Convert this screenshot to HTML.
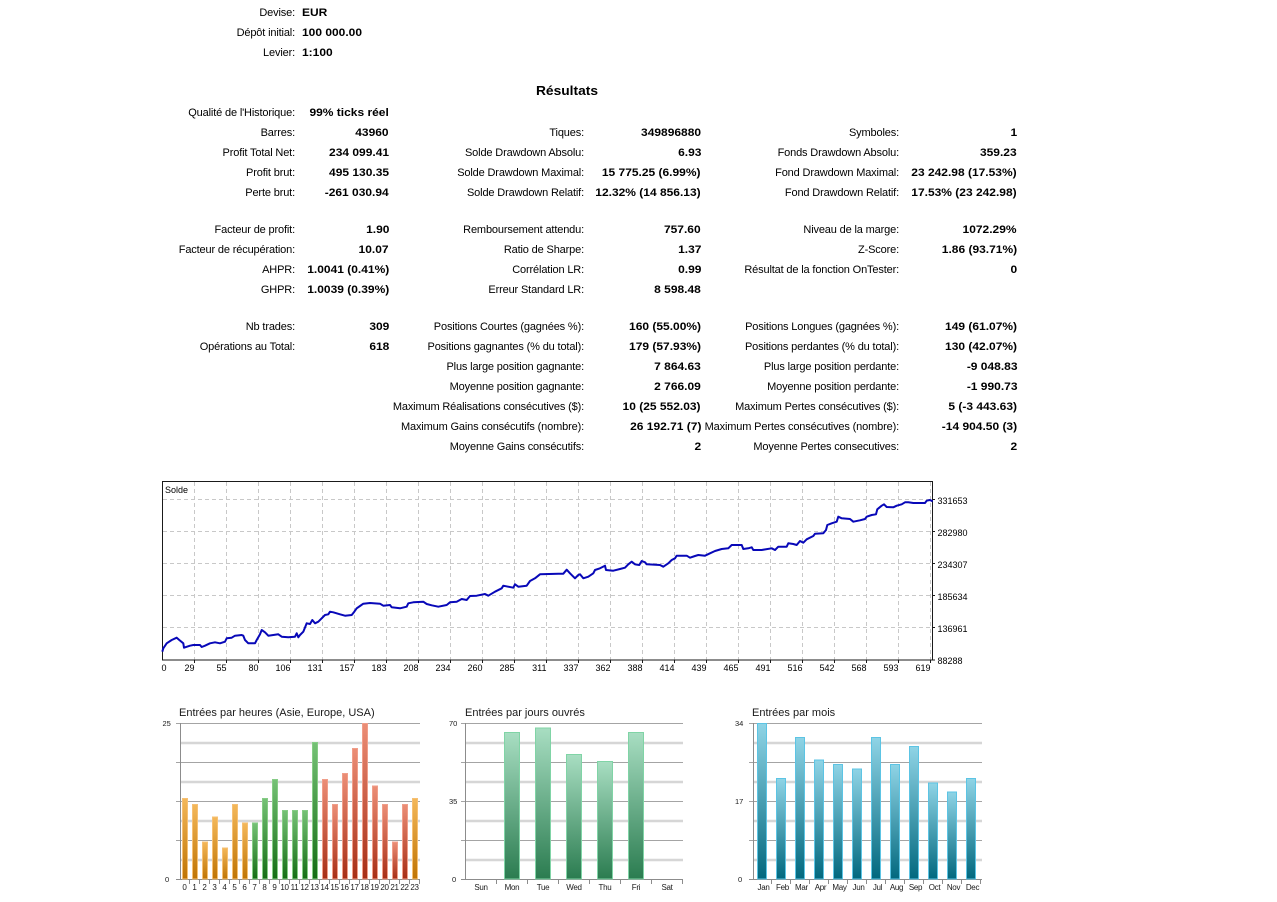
<!DOCTYPE html>
<html><head><meta charset="utf-8">
<style>
html,body{margin:0;padding:0;background:#fff;}
body{width:1277px;height:902px;position:relative;overflow:hidden;font-family:"Liberation Sans",Arial,sans-serif;color:#000;}
.r{position:absolute;left:0;width:1277px;height:20px;line-height:20px;font-size:11px;}
.r span{position:absolute;white-space:nowrap;}
.l{letter-spacing:-0.15px;text-align:right;}
.v{font-weight:bold;text-align:right;transform:scaleX(1.09);transform-origin:right center;}
.a{right:982px}.b{right:888px}.c{right:693px}.d{right:576px}.e{right:378px}.f{right:260px}
.tv{left:302px;font-weight:bold;transform:scaleX(1.09);transform-origin:left center;}
#res{position:absolute;left:467px;width:200px;text-align:center;top:81px;line-height:20px;font-size:13px;font-weight:bold;transform:scaleX(1.06);}
svg{position:absolute;left:0;top:0;}
</style></head><body>

<div class="r" style="top:3px"><span class="l a">Devise:</span><span class="tv">EUR</span></div>
<div class="r" style="top:23px"><span class="l a">Dépôt initial:</span><span class="tv">100 000.00</span></div>
<div class="r" style="top:43px"><span class="l a">Levier:</span><span class="tv">1:100</span></div>
<div id="res">Résultats</div>

<div class="r" style="top:103px"><span class="l a">Qualité de l'Historique:</span><span class="v b">99% ticks réel</span></div>
<div class="r" style="top:123px"><span class="l a">Barres:</span><span class="v b">43960</span><span class="l c">Tiques:</span><span class="v d">349896880</span><span class="l e">Symboles:</span><span class="v f">1</span></div>
<div class="r" style="top:143px"><span class="l a">Profit Total Net:</span><span class="v b">234 099.41</span><span class="l c">Solde Drawdown Absolu:</span><span class="v d">6.93</span><span class="l e">Fonds Drawdown Absolu:</span><span class="v f">359.23</span></div>
<div class="r" style="top:163px"><span class="l a">Profit brut:</span><span class="v b">495 130.35</span><span class="l c">Solde Drawdown Maximal:</span><span class="v d">15 775.25 (6.99%)</span><span class="l e">Fond Drawdown Maximal:</span><span class="v f">23 242.98 (17.53%)</span></div>
<div class="r" style="top:183px"><span class="l a">Perte brut:</span><span class="v b">-261 030.94</span><span class="l c">Solde Drawdown Relatif:</span><span class="v d">12.32% (14 856.13)</span><span class="l e">Fond Drawdown Relatif:</span><span class="v f">17.53% (23 242.98)</span></div>

<div class="r" style="top:220px"><span class="l a">Facteur de profit:</span><span class="v b">1.90</span><span class="l c">Remboursement attendu:</span><span class="v d">757.60</span><span class="l e">Niveau de la marge:</span><span class="v f">1072.29%</span></div>
<div class="r" style="top:240px"><span class="l a">Facteur de récupération:</span><span class="v b">10.07</span><span class="l c">Ratio de Sharpe:</span><span class="v d">1.37</span><span class="l e">Z-Score:</span><span class="v f">1.86 (93.71%)</span></div>
<div class="r" style="top:260px"><span class="l a">AHPR:</span><span class="v b">1.0041 (0.41%)</span><span class="l c">Corrélation LR:</span><span class="v d">0.99</span><span class="l e">Résultat de la fonction OnTester:</span><span class="v f">0</span></div>
<div class="r" style="top:280px"><span class="l a">GHPR:</span><span class="v b">1.0039 (0.39%)</span><span class="l c">Erreur Standard LR:</span><span class="v d">8 598.48</span></div>

<div class="r" style="top:317px"><span class="l a">Nb trades:</span><span class="v b">309</span><span class="l c">Positions Courtes (gagnées %):</span><span class="v d">160 (55.00%)</span><span class="l e">Positions Longues (gagnées %):</span><span class="v f">149 (61.07%)</span></div>
<div class="r" style="top:337px"><span class="l a">Opérations au Total:</span><span class="v b">618</span><span class="l c">Positions gagnantes (% du total):</span><span class="v d">179 (57.93%)</span><span class="l e">Positions perdantes (% du total):</span><span class="v f">130 (42.07%)</span></div>
<div class="r" style="top:357px"><span class="l c">Plus large position gagnante:</span><span class="v d">7 864.63</span><span class="l e">Plus large position perdante:</span><span class="v f">-9 048.83</span></div>
<div class="r" style="top:377px"><span class="l c">Moyenne position gagnante:</span><span class="v d">2 766.09</span><span class="l e">Moyenne position perdante:</span><span class="v f">-1 990.73</span></div>
<div class="r" style="top:397px"><span class="l c">Maximum Réalisations consécutives ($):</span><span class="v d">10 (25 552.03)</span><span class="l e">Maximum Pertes consécutives ($):</span><span class="v f">5 (-3 443.63)</span></div>
<div class="r" style="top:417px"><span class="l c">Maximum Gains consécutifs (nombre):</span><span class="v d">26 192.71 (7)</span><span class="l e">Maximum Pertes consécutives (nombre):</span><span class="v f">-14 904.50 (3)</span></div>
<div class="r" style="top:437px"><span class="l c">Moyenne Gains consécutifs:</span><span class="v d">2</span><span class="l e">Moyenne Pertes consecutives:</span><span class="v f">2</span></div>

<svg width="1277" height="902" viewBox="0 0 1277 902" xmlns="http://www.w3.org/2000/svg" font-family="Liberation Sans, Arial, sans-serif">
<defs>
<linearGradient id="gO" x1="0" y1="0" x2="0" y2="1"><stop offset="0" stop-color="#f4b85a"/><stop offset="1" stop-color="#bf7404"/></linearGradient>
<linearGradient id="gG" x1="0" y1="0" x2="0" y2="1"><stop offset="0" stop-color="#76c276"/><stop offset="1" stop-color="#146c14"/></linearGradient>
<linearGradient id="gR" x1="0" y1="0" x2="0" y2="1"><stop offset="0" stop-color="#ec8e76"/><stop offset="1" stop-color="#a62e16"/></linearGradient>
<linearGradient id="gD" x1="0" y1="0" x2="0" y2="1"><stop offset="0" stop-color="#a8dec2"/><stop offset="1" stop-color="#2b7c50"/></linearGradient>
<linearGradient id="gM" x1="0" y1="0" x2="0" y2="1"><stop offset="0" stop-color="#8fd4e6"/><stop offset="1" stop-color="#02687e"/></linearGradient>
</defs>

<!-- Balance chart -->
<g stroke="#c8c8c8" stroke-width="1" stroke-dasharray="4,3" fill="none">
<path d="M194.5 482V660M226.5 482V660M258.5 482V660M290.5 482V660M322.5 482V660M354.5 482V660M386.5 482V660M418.5 482V660M450.5 482V660M482.5 482V660M514.5 482V660M546.5 482V660M578.5 482V660M610.5 482V660M642.5 482V660M674.5 482V660M706.5 482V660M738.5 482V660M770.5 482V660M802.5 482V660M834.5 482V660M866.5 482V660M898.5 482V660M930.5 482V660"/>
<path d="M163 499.5H933M163 531.5H933M163 563.5H933M163 595.5H933M163 627.5H933"/>
</g>
<rect x="162.5" y="481.5" width="770" height="178.5" fill="none" stroke="#1a1a1a" stroke-width="1"/>
<g stroke="#1a1a1a" stroke-width="1">
<path d="M933 499.5H935M933 531.5H935M933 563.5H935M933 595.5H935M933 627.5H935M933 660H935"/>
<path d="M194.5 660V663M226.5 660V663M258.5 660V663M290.5 660V663M322.5 660V663M354.5 660V663M386.5 660V663M418.5 660V663M450.5 660V663M482.5 660V663M514.5 660V663M546.5 660V663M578.5 660V663M610.5 660V663M642.5 660V663M674.5 660V663M706.5 660V663M738.5 660V663M770.5 660V663M802.5 660V663M834.5 660V663M866.5 660V663M898.5 660V663M930.5 660V663"/>
</g>
<text x="165" y="493" font-size="9" fill="#000">Solde</text>
<g font-size="9" fill="#000">
<text x="937.5" y="504">331653</text>
<text x="937.5" y="536">282980</text>
<text x="937.5" y="568">234307</text>
<text x="937.5" y="600">185634</text>
<text x="937.5" y="632">136961</text>
<text x="937.5" y="664">88288</text>
</g>
<g font-size="9" fill="#000" text-anchor="end">
<text x="166.5" y="671">0</text>
<text x="194.5" y="671">29</text><text x="226.5" y="671">55</text><text x="258.5" y="671">80</text><text x="290.5" y="671">106</text><text x="322.5" y="671">131</text><text x="354.5" y="671">157</text><text x="386.5" y="671">183</text><text x="418.5" y="671">208</text><text x="450.5" y="671">234</text><text x="482.5" y="671">260</text><text x="514.5" y="671">285</text><text x="546.5" y="671">311</text><text x="578.5" y="671">337</text><text x="610.5" y="671">362</text><text x="642.5" y="671">388</text><text x="674.5" y="671">414</text><text x="706.5" y="671">439</text><text x="738.5" y="671">465</text><text x="770.5" y="671">491</text><text x="802.5" y="671">516</text><text x="834.5" y="671">542</text><text x="866.5" y="671">568</text><text x="898.5" y="671">593</text><text x="930.5" y="671">619</text>
</g>
<polyline fill="none" stroke="#0808b8" stroke-width="2" stroke-linejoin="round" points="162.3,651.7 163.3,648.3 166.7,643.3 171.7,640 176.7,637.7 179.3,640 183.3,643.3 184,647.7 190,645.7 193.3,645 200,645 201.7,647 205,645.7 210,643.3 215,642.3 220,643.3 225,641.7 226.7,638.3 231.7,637.7 235,635.7 241.7,635 243.3,635.7 245,640 248.3,643.3 255,643.3 256.7,640 260,634.3 261.7,630 265,632.3 268.3,635.7 273.3,635 278.3,634.3 281.7,636.7 288.3,637.3 295,636.7 296.7,633.3 298.3,637.3 300,635 303.3,631.7 306.7,623.3 310,624 312.3,620 315,623.3 318.3,621.7 321.7,618.3 325,615 328.3,614.3 330,611.7 333.3,612.3 340,614.3 345,615.7 351.7,615 354.3,611.7 356.7,608.3 360,606 363.3,603.7 370,603 380,603.7 383.3,605.7 390,605 391.7,607.3 400,608.3 406.7,606.7 408.3,603.3 413.3,602.3 423.3,601.7 426.7,604 431.7,605.3 438.3,606.7 446.7,605 450,602.3 456.7,601.7 461.7,599 466.7,600 470,596 476.7,595.7 485,594 488.3,595.7 495,591.7 501.7,588.3 503.3,585.7 513.3,587.7 515,584.3 518.3,586.7 526.7,585.7 530,581 535,578.3 540,574.3 558.3,573.7 563.3,573.7 566.7,569.7 570,573.3 575,578.3 578.3,575 580,574.3 583.3,578.3 588.3,576.7 593.3,573.3 595,570 600,568.3 605,565.7 606,570 613.3,570.7 620,569 625,567.7 628.3,564.3 631.7,561.7 635,564.3 639.3,565 641.7,561 645,562.3 646.7,564.3 660,565 663.3,566.7 668.3,563.3 671.7,560 675,558.3 676.7,555.7 686.7,555.7 690,557.7 695,556 698.3,555 705,555.7 710,553.3 715,551 721.7,549 728.3,548.3 731.7,545 741.7,545 743.3,549 748.3,548.3 751.7,547.3 753.3,550 761.7,550 771.7,548.3 775,550 778.3,546.7 786.7,546.7 788.3,543.3 793.3,544 796.7,545 800,541 803.3,542.7 806.7,539.3 813.3,536 815,533.7 823.3,533.3 826,530 827.3,525 831.7,523.3 836.7,521.7 838.3,516.7 841.7,518.3 850,519 853.3,521.7 860,520.3 865,519 866.7,516.7 871.7,515 876,514.3 877.3,509.3 881.7,505.7 884,504.3 886.7,507 893.3,507.3 896.7,505.7 901.7,504.3 905,502.3 908.3,502.3 913.3,503 925,503 926.7,500.7 930,500 932.7,501.3"/>

<!-- Bar chart titles -->
<g font-size="11" fill="#1a1a1a">
<text x="179" y="716">Entrées par heures (Asie, Europe, USA)</text>
<text x="465" y="716">Entrées par jours ouvrés</text>
<text x="752" y="716">Entrées par mois</text>
</g>

<!-- Hours chart grid -->
<g fill="none">
<path stroke="#d6d6d6" stroke-width="2.5" d="M180 743H420M180 782H420M180 821H420M180 860H420"/>
<path stroke="#a4a4a4" stroke-width="1" d="M176 723.5H420M176 762.5H420M176 801.5H420M176 840.5H420"/>
<path stroke="#8c8c8c" stroke-width="1" d="M176 879.5H420M180.5 723V880"/>
<path stroke="#8c8c8c" stroke-width="1" d="M189.5 879V884M199.5 879V884M209.5 879V884M219.5 879V884M229.5 879V884M239.5 879V884M249.5 879V884M259.5 879V884M269.5 879V884M279.5 879V884M289.5 879V884M299.5 879V884M309.5 879V884M319.5 879V884M329.5 879V884M339.5 879V884M349.5 879V884M359.5 879V884M369.5 879V884M379.5 879V884M389.5 879V884M399.5 879V884M409.5 879V884M419.5 879V884"/>
</g>
<g stroke-width="1">
<rect x="182.5" y="798.5" width="5" height="80.5" fill="url(#gO)" stroke="#f6c074"/>
<rect x="192.5" y="804.5" width="5" height="74.5" fill="url(#gO)" stroke="#f6c074"/>
<rect x="202.5" y="842" width="5" height="37" fill="url(#gO)" stroke="#f6c074"/>
<rect x="212.5" y="817" width="5" height="62" fill="url(#gO)" stroke="#f6c074"/>
<rect x="222.5" y="848" width="5" height="31" fill="url(#gO)" stroke="#f6c074"/>
<rect x="232.5" y="804.5" width="5" height="74.5" fill="url(#gO)" stroke="#f6c074"/>
<rect x="242.5" y="823" width="5" height="56" fill="url(#gO)" stroke="#f6c074"/>
<rect x="252.5" y="823" width="5" height="56" fill="url(#gG)" stroke="#86cc86"/>
<rect x="262.5" y="798.5" width="5" height="80.5" fill="url(#gG)" stroke="#86cc86"/>
<rect x="272.5" y="779.5" width="5" height="99.5" fill="url(#gG)" stroke="#86cc86"/>
<rect x="282.5" y="810.5" width="5" height="68.5" fill="url(#gG)" stroke="#86cc86"/>
<rect x="292.5" y="810.5" width="5" height="68.5" fill="url(#gG)" stroke="#86cc86"/>
<rect x="302.5" y="810.5" width="5" height="68.5" fill="url(#gG)" stroke="#86cc86"/>
<rect x="312.5" y="742.5" width="5" height="136.5" fill="url(#gG)" stroke="#86cc86"/>
<rect x="322.5" y="779.5" width="5" height="99.5" fill="url(#gR)" stroke="#f09e8a"/>
<rect x="332.5" y="804.5" width="5" height="74.5" fill="url(#gR)" stroke="#f09e8a"/>
<rect x="342.5" y="773.5" width="5" height="105.5" fill="url(#gR)" stroke="#f09e8a"/>
<rect x="352.5" y="748.5" width="5" height="130.5" fill="url(#gR)" stroke="#f09e8a"/>
<rect x="362.5" y="723.5" width="5" height="155.5" fill="url(#gR)" stroke="#f09e8a"/>
<rect x="372.5" y="786" width="5" height="93" fill="url(#gR)" stroke="#f09e8a"/>
<rect x="382.5" y="804.5" width="5" height="74.5" fill="url(#gR)" stroke="#f09e8a"/>
<rect x="392.5" y="842" width="5" height="37" fill="url(#gR)" stroke="#f09e8a"/>
<rect x="402.5" y="804.5" width="5" height="74.5" fill="url(#gR)" stroke="#f09e8a"/>
<rect x="412.5" y="798.5" width="5" height="80.5" fill="url(#gO)" stroke="#f6c074"/>
</g>
<g font-size="7.5" fill="#1a1a1a">
<text x="162.5" y="726">25</text>
<text x="165" y="882">0</text>
</g>
<g font-size="8" fill="#1a1a1a" text-anchor="middle" letter-spacing="-0.3">
<text x="184.5" y="890">0</text><text x="194.5" y="890">1</text><text x="204.5" y="890">2</text><text x="214.5" y="890">3</text><text x="224.5" y="890">4</text><text x="234.5" y="890">5</text><text x="244.5" y="890">6</text><text x="254.5" y="890">7</text><text x="264.5" y="890">8</text><text x="274.5" y="890">9</text><text x="284.5" y="890">10</text><text x="294.5" y="890">11</text><text x="304.5" y="890">12</text><text x="314.5" y="890">13</text><text x="324.5" y="890">14</text><text x="334.5" y="890">15</text><text x="344.5" y="890">16</text><text x="354.5" y="890">17</text><text x="364.5" y="890">18</text><text x="374.5" y="890">19</text><text x="384.5" y="890">20</text><text x="394.5" y="890">21</text><text x="404.5" y="890">22</text><text x="414.5" y="890">23</text>
</g>

<!-- Day chart -->
<g fill="none">
<path stroke="#d6d6d6" stroke-width="2.5" d="M465 743H683M465 782H683M465 821H683M465 860H683"/>
<path stroke="#a4a4a4" stroke-width="1" d="M461 723.5H683M461 762.5H683M461 801.5H683M461 840.5H683"/>
<path stroke="#8c8c8c" stroke-width="1" d="M461 879.5H683M465.5 723V880"/>
<path stroke="#8c8c8c" stroke-width="1" d="M496.5 879V884M527.5 879V884M558.5 879V884M589.5 879V884M620.5 879V884M651.5 879V884M682.5 879V884"/>
</g>
<g stroke="#80d4a6" stroke-width="1" fill="url(#gD)">
<rect x="504.5" y="732.5" width="15" height="146.5"/>
<rect x="535.5" y="728" width="15" height="151"/>
<rect x="566.5" y="754.5" width="15" height="124.5"/>
<rect x="597.5" y="761.5" width="15" height="117.5"/>
<rect x="628.5" y="732.5" width="15" height="146.5"/>
</g>
<g font-size="7.5" fill="#1a1a1a">
<text x="449" y="726">70</text>
<text x="449" y="804">35</text>
<text x="452" y="882">0</text>
</g>
<g font-size="8" fill="#1a1a1a" text-anchor="middle" letter-spacing="-0.3">
<text x="481" y="890">Sun</text><text x="512" y="890">Mon</text><text x="543" y="890">Tue</text><text x="574" y="890">Wed</text><text x="605" y="890">Thu</text><text x="636" y="890">Fri</text><text x="667" y="890">Sat</text>
</g>

<!-- Month chart -->
<g fill="none">
<path stroke="#d6d6d6" stroke-width="2.5" d="M753 743H982M753 782H982M753 821H982M753 860H982"/>
<path stroke="#a4a4a4" stroke-width="1" d="M749 723.5H982M749 762.5H982M749 801.5H982M749 840.5H982"/>
<path stroke="#8c8c8c" stroke-width="1" d="M749 879.5H982M753.5 723V880"/>
<path stroke="#8c8c8c" stroke-width="1" d="M771.5 879V884M790.5 879V884M809.5 879V884M828.5 879V884M847.5 879V884M866.5 879V884M885.5 879V884M904.5 879V884M923.5 879V884M942.5 879V884M961.5 879V884M980.5 879V884"/>
</g>
<g stroke="#5cc4e4" stroke-width="1" fill="url(#gM)">
<rect x="757.5" y="723.5" width="9" height="155.5"/>
<rect x="776.5" y="778.5" width="9" height="100.5"/>
<rect x="795.5" y="737.5" width="9" height="141.5"/>
<rect x="814.5" y="760" width="9" height="119"/>
<rect x="833.5" y="764.5" width="9" height="114.5"/>
<rect x="852.5" y="769" width="9" height="110"/>
<rect x="871.5" y="737.5" width="9" height="141.5"/>
<rect x="890.5" y="764.5" width="9" height="114.5"/>
<rect x="909.5" y="746.5" width="9" height="132.5"/>
<rect x="928.5" y="783" width="9" height="96"/>
<rect x="947.5" y="792" width="9" height="87"/>
<rect x="966.5" y="778.5" width="9" height="100.5"/>
</g>
<g font-size="7.5" fill="#1a1a1a">
<text x="735" y="726">34</text>
<text x="735" y="804">17</text>
<text x="738" y="882">0</text>
</g>
<g font-size="8" fill="#1a1a1a" text-anchor="middle" letter-spacing="-0.3">
<text x="763.5" y="890">Jan</text><text x="782.5" y="890">Feb</text><text x="801.5" y="890">Mar</text><text x="820.5" y="890">Apr</text><text x="839.5" y="890">May</text><text x="858.5" y="890">Jun</text><text x="877.5" y="890">Jul</text><text x="896.5" y="890">Aug</text><text x="915.5" y="890">Sep</text><text x="934.5" y="890">Oct</text><text x="953.5" y="890">Nov</text><text x="972.5" y="890">Dec</text>
</g>
</svg>
</body></html>
